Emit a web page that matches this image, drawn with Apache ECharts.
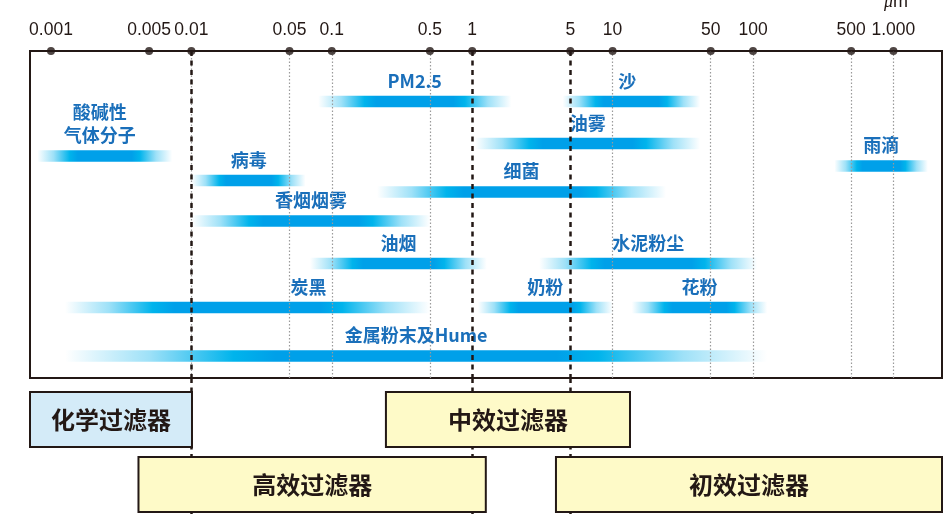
<!DOCTYPE html>
<html><head><meta charset="utf-8">
<script src="https://cdn.jsdelivr.net/npm/echarts@6/dist/echarts.min.js"></script>
<style>html,body{margin:0;padding:0;background:#fff}#c{width:945px;height:514px}</style>
</head><body><div id="c"></div>
<script>
// ---- data ----
const tickValues = [0.001, 0.005, 0.01, 0.05, 0.1, 0.5, 1, 5, 10, 50, 100, 500, 1000];
const tickLabels = ['0.001', '0.005', '0.01', '0.05', '0.1', '0.5', '1', '5', '10', '50', '100', '500', '1.000'];
const majorLines = [0.01, 1, 5];
const axisMin = 0.000709;
const axisMax = 2218;

const particleNames = ['PM2.5', '沙', '油雾', '酸碱性\n气体分子', '雨滴', '病毒', '细菌', '香烟烟雾', '油烟', '水泥粉尘', '炭黑', '奶粉', '花粉', '金属粉末及Hume'];
const sizeMin = [0.08, 4.4, 1.05, 0.0008, 380, 0.0101, 0.21, 0.0101, 0.07, 3.0, 0.00126, 1.1, 13.7, 0.00126];
const sizeMax = [1.9, 42, 42, 0.0073, 1760, 0.065, 24, 0.5, 1.27, 107, 0.5, 10, 126, 126];

const filterNames = ['化学过滤器', '中效过滤器', '高效过滤器', '初效过滤器'];
const filterMin = [axisMin, 0.243, 0.0042, 3.95];
const filterMax = [0.0101, 13.3, 1.25, axisMax];

// ---- layout (positions / styles) ----
const laneY = [50.5, 50.5, 92.5, 105, 115, 129.5, 141, 170, 212.5, 212.5, 256.5, 256.5, 256.5, 305];
const labelDx = { '炭黑': 61, '酸碱性\n气体分子': -5, '沙': -4 };
const filterRow = [0, 0, 1, 1];
const filterFill = ['#d4ebf8', '#fefac8', '#fefac8', '#fefac8'];

const DARK = '#231815';
const BLUE_TXT = '#1a6fba';
const CJK = '"Noto Sans CJK SC", "Noto Sans", sans-serif';

const chart = echarts.init(document.getElementById('c'), null, { renderer: 'canvas' });

function tickLabelOf(v) {
  let best = -1, bd = 1e9;
  tickValues.forEach((t, i) => { const d = Math.abs(Math.log10(v) - Math.log10(t)); if (d < bd) { bd = d; best = i; } });
  return bd < 1e-4 ? tickLabels[best] : '';
}

const barData = particleNames.map((n, i) => [sizeMin[i], sizeMax[i], laneY[i]]);
const filterData = filterNames.map((n, i) => [filterMin[i], filterMax[i], filterRow[i]]);

function renderBar(params, api) {
  const i = params.dataIndex;
  const a = api.coord([api.value(0), api.value(2)]);
  const b = api.coord([api.value(1), api.value(2)]);
  const h = 11.5;
  const w = b[0] - a[0];
  const f = 0.24;
  const name = particleNames[i];
  return {
    type: 'group',
    children: [
      {
        type: 'rect',
        shape: { x: a[0], y: a[1] - h / 2, width: w, height: h },
        style: {
          fill: new echarts.graphic.LinearGradient(0, 0, 1, 0, [
            { offset: 0, color: 'rgba(0,176,236,0)' },
            { offset: f * 0.5, color: 'rgba(0,176,236,0.38)' },
            { offset: f, color: 'rgba(0,180,236,1)' },
            { offset: f + 0.06, color: '#00a0e9' },
            { offset: 1 - f - 0.06, color: '#00a0e9' },
            { offset: 1 - f, color: 'rgba(0,180,236,1)' },
            { offset: 1 - f * 0.5, color: 'rgba(0,176,236,0.38)' },
            { offset: 1, color: 'rgba(0,176,236,0)' }
          ])
        }
      },
      {
        type: 'text',
        x: (a[0] + b[0]) / 2 + (labelDx[name] || 0),
        y: a[1] - 9,
        style: {
          text: name,
          fill: BLUE_TXT,
          font: 'bold 18px ' + CJK,
          align: 'center',
          verticalAlign: 'bottom',
          lineHeight: 23
        }
      }
    ]
  };
}

function renderFilter(params, api) {
  const i = params.dataIndex;
  const a = api.coord([api.value(0), api.value(2)]);
  const b = api.coord([api.value(1), api.value(2)]);
  const h = 55;
  return {
    type: 'group',
    children: [
      {
        type: 'rect',
        shape: { x: a[0], y: a[1] - h / 2, width: b[0] - a[0], height: h },
        style: { fill: filterFill[i], stroke: DARK, lineWidth: 2 }
      },
      {
        type: 'text',
        x: (a[0] + b[0]) / 2,
        y: a[1],
        style: {
          text: filterNames[i],
          fill: DARK,
          font: 'bold 24px ' + CJK,
          align: 'center',
          verticalAlign: 'middle'
        }
      }
    ]
  };
}

const lightLines = tickValues.filter(v => majorLines.indexOf(v) < 0).map(v => ({
  xAxis: v,
  lineStyle: { color: '#9a9a9a', width: 1.2, type: [1.5, 2] }
}));
const darkLines = majorLines.map(v => ({
  xAxis: v,
  lineStyle: { color: DARK, width: 2.5, type: [5, 4.5] }
}));

const xBase = {
  type: 'log',
  logBase: 10,
  min: axisMin,
  max: axisMax,
  splitLine: { show: false },
  axisTick: { show: false },
  minorTick: { show: false },
  minorSplitLine: { show: false }
};

const option = {
  backgroundColor: '#fff',
  animation: false,
  grid: [
    { left: 30, top: 51, width: 912, height: 327, show: true, borderColor: DARK, borderWidth: 2, backgroundColor: 'transparent' },
    { left: 30, top: 378, width: 912, height: 136, show: false }
  ],
  xAxis: [
    Object.assign({}, xBase, {
      gridIndex: 0,
      position: 'top',
      axisLine: { show: true, lineStyle: { color: DARK, width: 2 } },
      axisLabel: {
        show: true,
        customValues: tickValues,
        formatter: v => tickLabelOf(v),
        color: DARK,
        fontSize: 17.5,
        fontFamily: '"Liberation Sans", Arial, sans-serif',
        margin: 12,
        showMinLabel: true,
        showMaxLabel: true,
        hideOverlap: false
      }
    }),
    Object.assign({}, xBase, {
      gridIndex: 1,
      axisLine: { show: false },
      axisLabel: { show: false }
    })
  ],
  yAxis: [
    { type: 'value', gridIndex: 0, min: 0, max: 327, inverse: true, show: false, splitLine: { show: false } },
    { type: 'value', gridIndex: 1, min: -0.638, max: 1.454, inverse: true, show: false, splitLine: { show: false } }
  ],
  series: [
    {
      type: 'custom',
      name: 'particles',
      xAxisIndex: 0, yAxisIndex: 0,
      renderItem: renderBar,
      data: barData,
      encode: { x: [0, 1], y: 2 },
      z: 2,
      silent: true
    },
    {
      type: 'scatter',
      name: 'grid-lines',
      xAxisIndex: 0, yAxisIndex: 0,
      data: [[1, 0]],
      symbolSize: 0,
      z: 5,
      silent: true,
      markLine: {
        silent: true,
        symbol: 'none',
        label: { show: false },
        animation: false,
        data: lightLines.concat(darkLines)
      }
    },
    {
      type: 'scatter',
      name: 'tick-dots',
      xAxisIndex: 0, yAxisIndex: 0,
      data: tickValues.map(v => [v, 0]),
      symbol: 'circle',
      symbolSize: 8,
      itemStyle: { color: DARK },
      clip: false,
      z: 10,
      silent: true
    },
    {
      type: 'scatter',
      name: 'grid-lines-2',
      xAxisIndex: 1, yAxisIndex: 1,
      data: [[1, 0]],
      symbolSize: 0,
      z: 1,
      silent: true,
      markLine: {
        silent: true,
        symbol: 'none',
        label: { show: false },
        animation: false,
        data: darkLines
      }
    },
    {
      type: 'custom',
      name: 'filters',
      xAxisIndex: 1, yAxisIndex: 1,
      renderItem: renderFilter,
      data: filterData,
      encode: { x: [0, 1], y: 2 },
      z: 6,
      clip: false,
      silent: true
    }
  ],
  graphic: [
    {
      type: 'text',
      x: 896, y: 2,
      style: {
        text: '{i|μ}m',
        align: 'center',
        verticalAlign: 'middle',
        fill: DARK,
        font: '18px "Liberation Sans", Arial, sans-serif',
        rich: { i: { fontStyle: 'italic', fontSize: 18, fontFamily: '"Liberation Serif", serif', fill: DARK } }
      }
    }
  ]
};

chart.setOption(option);
</script>
</body></html>
